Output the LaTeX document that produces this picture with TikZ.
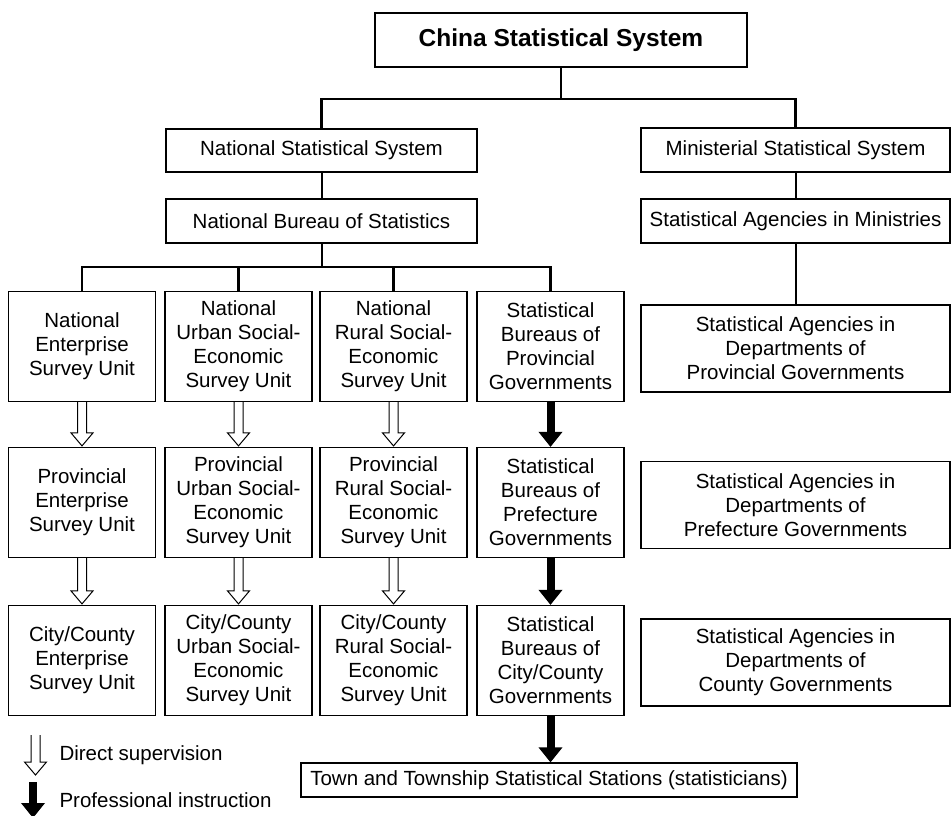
\documentclass[tikz,border=0pt]{standalone}
\usepackage{fontspec}
\setmainfont{Liberation Sans}
\usepackage{tikz}
\usetikzlibrary{arrows.meta, calc, positioning}
\tikzstyle{box} = [draw, line width=1.2pt, align=center, inner sep=0pt, font=\fontsize{20.5}{24}\selectfont]
\tikzstyle{unit} = [box, minimum width=147pt, minimum height=110pt]
\tikzstyle{agency} = [box, minimum width=309pt, minimum height=87pt]
\tikzstyle{line} = [draw, line width=2pt]
\tikzstyle{bus} = [draw, line width=2.6pt]
\tikzstyle{instr} = [draw, line width=8pt, -{Triangle[width=23pt, length=15pt]}]
\tikzstyle{supv} = [draw, line width=1pt, to path={let \p1=(\tikztostart), \p2=(\tikztotarget) in
	(\x1-4.5pt,\y1) -- (\x1-4.5pt,\y2+14pt) -- (\x1-11pt,\y2+14pt) -- (\x1,\y2+1pt)
	-- (\x1+11pt,\y2+14pt) -- (\x1+4.5pt,\y2+14pt) -- (\x1+4.5pt,\y1)}]

\begin{document}
\begin{tikzpicture}[x=1pt, y=-1pt]
			\useasboundingbox (0, 0) rectangle (951, 816);
			\node [box, minimum width=372pt, minimum height=54pt, font=\fontsize{24.5}{28}\selectfont\bfseries] (css) at (561, 40) {China Statistical System};
			\node [box, minimum width=311pt, minimum height=43pt] (nss) at (321.5, 150.5) {National Statistical System};
			\node [box, minimum width=309pt, minimum height=44pt] (mss) at (795.5, 150) {Ministerial Statistical System};
			\node [box, minimum width=311pt, minimum height=44pt] (nbs) at (321.5, 221) {National Bureau of Statistics};
			\node [box, minimum width=309pt, minimum height=44pt] (sam) at (795.5, 221) {Statistical Agencies in Ministries};
			
			\node [unit] (neu) at (82, 346.5) {National\\Enterprise\\Survey Unit};
			\node [unit] (nus) at (238.5, 346.5) {National\\Urban Social-\\Economic\\Survey Unit};
			\node [unit] (nrs) at (393.5, 346.5) {National\\Rural Social-\\Economic\\Survey Unit};
			\node [unit] (sbp) at (550.5, 346.5) {Statistical\\Bureaus of\\Provincial\\Governments};
			\node [unit] (peu) at (82, 502.5) {Provincial\\Enterprise\\Survey Unit};
			\node [unit] (pus) at (238.5, 502.5) {Provincial\\Urban Social-\\Economic\\Survey Unit};
			\node [unit] (prs) at (393.5, 502.5) {Provincial\\Rural Social-\\Economic\\Survey Unit};
			\node [unit] (sbf) at (550.5, 502.5) {Statistical\\Bureaus of\\Prefecture\\Governments};
			\node [unit] (ceu) at (82, 660.5) {City/County\\Enterprise\\Survey Unit};
			\node [unit] (cus) at (238.5, 660.5) {City/County\\Urban Social-\\Economic\\Survey Unit};
			\node [unit] (crs) at (393.5, 660.5) {City/County\\Rural Social-\\Economic\\Survey Unit};
			\node [unit] (sbc) at (550.5, 660.5) {Statistical\\Bureaus of\\City/County\\Governments};
			
			\node [agency] (sap) at (795.5, 348.5) {Statistical Agencies in\\Departments of\\Provincial Governments};
			\node [agency] (saf) at (795.5, 505) {Statistical Agencies in\\Departments of\\Prefecture Governments};
			\node [agency] (sac) at (795.5, 662.5) {Statistical Agencies in\\Departments of\\County Governments};
			\node [box, minimum width=496pt, minimum height=34pt] (tts) at (549, 780) {Town and Township Statistical Stations (statisticians)};
			
			\coordinate (topbus) at (561, 99);
			\coordinate (natbus) at (321.5, 267);
			\path [line] (css) -- (topbus);
			\path [bus] (topbus) -| (nss);
			\path [bus] (topbus) -| (mss);
			\path [line] (nss) -- (nbs);
			\path [line] (mss) -- (sam);
			\path [line] (sam) -- (sap);
			\path [line] (nbs) -- (natbus);
			\path [bus] (natbus) -| (neu);
			\path [bus] (natbus) -| (nus);
			\path [bus] (natbus) -| (nrs);
			\path [bus] (natbus) -| (sbp);
			
			\path [supv] (neu.south) to (peu.north);
			\path [supv] (nus.south) to (pus.north);
			\path [supv] (nrs.south) to (prs.north);
			\path [supv] (peu.south) to (ceu.north);
			\path [supv] (pus.south) to (cus.north);
			\path [supv] (prs.south) to (crs.north);
			\path [instr] (sbp) -- (sbf);
			\path [instr] (sbf) -- (sbc);
			\path [instr] (sbc) -- (tts.north -| sbc);
			
			% legend
			\coordinate (supa) at (35.5, 735);
			\coordinate (supb) at (35.5, 776);
			\coordinate (insa) at (33, 782);
			\coordinate (insb) at (33, 818);
			\path [supv] (supa) to (supb);
			\path [instr] (insa) -- (insb);
			\node [anchor=west, font=\fontsize{20.5}{24}\selectfont] (lsup) at (56, 755) {Direct supervision};
			\node [anchor=west, font=\fontsize{20.5}{24}\selectfont] (lins) at (56, 800) {Professional instruction};
		\end{tikzpicture}
\end{document}
